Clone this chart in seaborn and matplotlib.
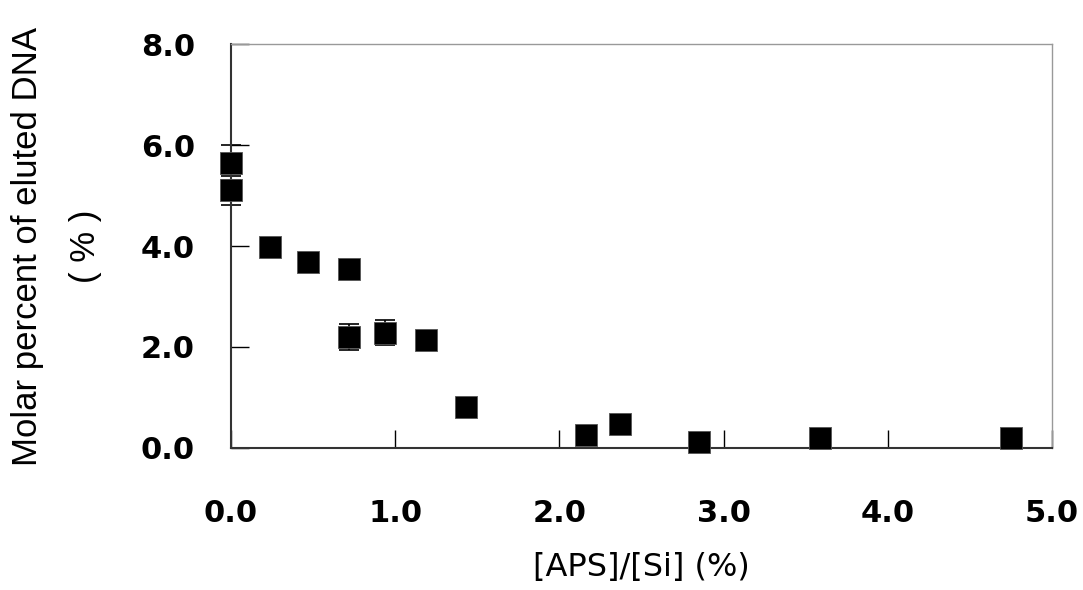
import matplotlib
matplotlib.use("Agg")
import matplotlib.pyplot as plt
import seaborn as sns
import pandas as pd

# values
aps_si = [0.0, 0.0, 0.24, 0.47, 0.72, 0.72, 0.94, 1.19, 1.43, 2.16, 2.37, 2.85, 3.59, 4.75]
eluted = [5.65, 5.10, 3.98, 3.68, 3.55, 2.20, 2.28, 2.14, 0.81, 0.26, 0.47, 0.12, 0.20, 0.20]
err = [0.35, 0.28, 0.18, 0.12, 0.05, 0.25, 0.25, 0.05, 0.05, 0.05, 0.05, 0.05, 0.05, 0.05]

df = pd.DataFrame({"x": aps_si, "y": eluted, "err": err})

sns.set_style("white")
plt.rcParams["font.family"] = ["DejaVu Sans"]
plt.rcParams["text.color"] = "black"
plt.rcParams["axes.labelcolor"] = "black"
plt.rcParams["xtick.color"] = "black"
plt.rcParams["ytick.color"] = "black"

fig = plt.figure(figsize=(10.83, 5.9), dpi=100)
ax = fig.add_axes([0.2133, 0.2407, 0.7581, 0.6847])

ax.errorbar(df["x"], df["y"], yerr=df["err"], fmt="none", ecolor="black",
            elinewidth=1.2, capsize=7, capthick=1.2, zorder=2, clip_on=False)
sns.scatterplot(data=df, x="x", y="y", marker="s", s=256, color="black",
                edgecolor="#555555", linewidth=0.6, ax=ax, zorder=3,
                legend=False, clip_on=False)

tick_font = {"family": "DejaVu Sans", "size": 22, "weight": "bold"}
ax.set_xlim(0, 5)
ax.set_ylim(0, 8)
ax.set_xticks([0, 1, 2, 3, 4, 5])
ax.set_yticks([0, 2, 4, 6, 8])
ax.set_xticklabels([f"{v:.1f}" for v in [0, 1, 2, 3, 4, 5]], fontdict=tick_font)
ax.set_yticklabels([f"{v:.1f}" for v in [0, 2, 4, 6, 8]], fontdict=tick_font)
ax.tick_params(axis="both", direction="in", length=13, width=1, color="black",
               bottom=True, left=True)
ax.tick_params(axis="x", pad=37)
ax.tick_params(axis="y", pad=26)

for side in ["top", "right"]:
    ax.spines[side].set_color("#999999")
    ax.spines[side].set_linewidth(1)
for side in ["left", "bottom"]:
    ax.spines[side].set_color("#333333")
    ax.spines[side].set_linewidth(1.5)

ax.set_xlabel("[APS]/[Si] (%)", fontsize=23, labelpad=17)
ax.set_ylabel("Molar percent of eluted DNA\n( % )", fontsize=25, labelpad=28,
              linespacing=1.95, family=["Liberation Sans", "DejaVu Sans"])

fig.savefig("out.png", dpi=100)
